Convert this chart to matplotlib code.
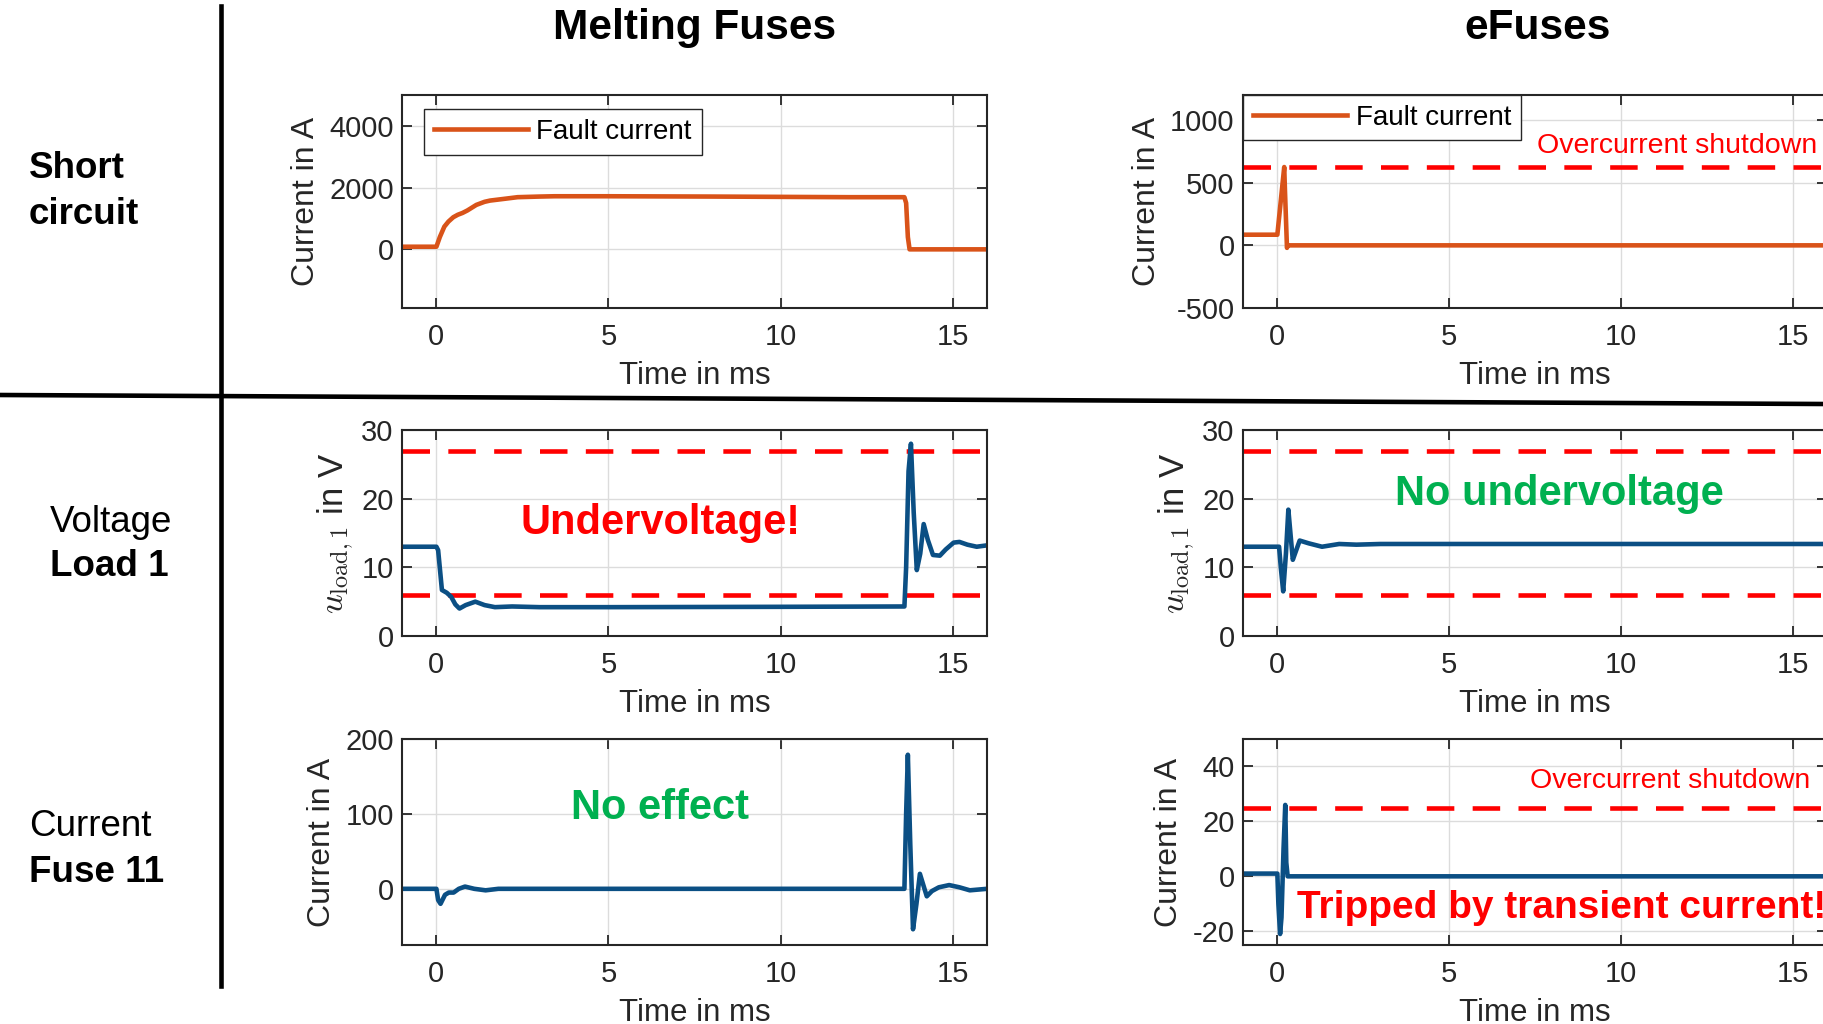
import matplotlib
matplotlib.use("Agg")
import matplotlib.pyplot as plt
from matplotlib.lines import Line2D

plt.rcParams['font.family'] = ['Liberation Sans', 'DejaVu Sans']
plt.rcParams['mathtext.fontset'] = 'cm'
plt.rcParams['axes.unicode_minus'] = False

# ---- data ----
fc_melt_t = [-1, 0, 0.1, 0.23, 0.35, 0.49, 0.62, 0.76, 0.9, 1.16, 1.4, 1.56, 2.0, 2.36,
             3.0, 3.43, 5, 8, 10, 12, 13.6, 13.65, 13.7, 13.75, 16]
fc_melt_i = [85, 85, 400, 735, 900, 1040, 1120, 1180, 1260, 1440, 1540, 1580, 1640, 1690,
             1710, 1720, 1720, 1710, 1700, 1690, 1690, 1500, 400, 0, 0]

fc_efuse_t = [-1, 0, 0.2, 0.22, 0.28, 0.3, 16]
fc_efuse_i = [85, 85, 625, 450, -20, 0, 0]

u_melt_t = [-1, 0, 0.05, 0.16, 0.3, 0.43, 0.55, 0.67, 0.85, 1.13, 1.4, 1.7, 2.2, 3, 5, 10,
            13.6, 13.65, 13.72, 13.79, 13.87, 13.96, 14.06, 14.16, 14.28, 14.43, 14.63,
            14.8, 15.03, 15.2, 15.43, 15.7, 16]
u_melt = [13.0, 13.0, 12.5, 6.7, 6.3, 5.7, 4.6, 4.0, 4.5, 5.0, 4.5, 4.2, 4.3, 4.2, 4.2, 4.25,
          4.3, 10, 24, 28.0, 18, 9.6, 12, 16.3, 14, 11.8, 11.7, 12.6, 13.6, 13.7, 13.3, 13.0, 13.2]

u_efuse_t = [-1, 0.05, 0.1, 0.17, 0.25, 0.32, 0.38, 0.45, 0.55, 0.65, 0.91, 1.3, 1.8, 2.3, 3, 16]
u_efuse = [13.0, 13.0, 10, 6.5, 12, 18.4, 15, 11.1, 12.5, 13.9, 13.5, 13.0, 13.4, 13.3, 13.4, 13.4]

i_melt_t = [-1, 0, 0.05, 0.12, 0.25, 0.36, 0.5, 0.65, 0.83, 1.1, 1.43, 1.8, 2.2, 13.6, 13.65,
            13.7, 13.77, 13.85, 13.95, 14.05, 14.15, 14.25, 14.4, 14.6, 14.9, 15.2, 15.5, 16]
i_melt = [0, 0, -15, -20, -8, -5, -5, 0, 3, 0, -2, 0, 0, 0, 100,
          179, 60, -54, -20, 20, 5, -10, -3, 2, 5, 2, -2, 0]

i_efuse_t = [-1, 0, 0.03, 0.08, 0.12, 0.18, 0.23, 0.26, 0.3, 16]
i_efuse = [1, 1, -10, -21, -15, 10, 26, 5, 0, 0]

u_limits = [27, 6]
oc_limit_fault = 625
oc_limit_fuse = 25

col_titles = ["Melting Fuses", "eFuses"]

ORANGE = '#D95319'
BLUE = '#0b4f84'
RED = '#FF0000'
GREEN = '#00B050'
DARK = '#262626'
LW = 3.3

W, H = 1823, 1024
fig = plt.figure(figsize=(W / 100, H / 100), dpi=100)


def add_ax(left, top, right, bottom):
    ax = fig.add_axes([left / W, 1 - bottom / H, (right - left) / W, (bottom - top) / H])
    ax.set_xlim(-1, 16)
    ax.set_xticks([0, 5, 10, 15])
    ax.grid(True, color='#dcdcdc', linewidth=1)
    ax.set_axisbelow(True)
    ax.tick_params(direction='in', top=True, right=True, length=7, width=1.3,
                   labelsize=21, colors=DARK, labelcolor=DARK)
    ax.tick_params(axis='x', pad=11)
    ax.tick_params(axis='y', pad=6)
    for s in ax.spines.values():
        s.set_color(DARK)
        s.set_linewidth(1.5)
    ax.set_xlabel("Time in ms", fontsize=22.5, color=DARK, labelpad=7)
    return ax


L0, L1 = 402, 987
R0, R1 = 1243, 1827
rows = [(95, 308), (430, 636), (739, 945)]

ax1 = add_ax(L0, rows[0][0], L1, rows[0][1])
ax2 = add_ax(R0, rows[0][0], R1, rows[0][1])
ax3 = add_ax(L0, rows[1][0], L1, rows[1][1])
ax4 = add_ax(R0, rows[1][0], R1, rows[1][1])
ax5 = add_ax(L0, rows[2][0], L1, rows[2][1])
ax6 = add_ax(R0, rows[2][0], R1, rows[2][1])

leg_kw = dict(fontsize=20, fancybox=False, framealpha=1, edgecolor=DARK,
              handlelength=3.4, handletextpad=0.3, borderpad=0.35, borderaxespad=0)
dash = (0, (6, 4))

# Row 1: fault current
ax1.plot(fc_melt_t, fc_melt_i, color=ORANGE, lw=LW, label='Fault current')
ax1.set_ylim(-1900, 5000)
ax1.set_yticks([0, 2000, 4000])
ax1.set_ylabel("Current in A", fontsize=23, color=DARK, labelpad=6)
lg = ax1.legend(loc='upper left', bbox_to_anchor=(0.0376, 0.934), **leg_kw)
lg.get_frame().set_linewidth(1)

ax2.plot(fc_efuse_t, fc_efuse_i, color=ORANGE, lw=LW, label='Fault current')
ax2.axhline(oc_limit_fault, color=RED, lw=LW, ls=dash)
ax2.set_ylim(-500, 1200)
ax2.set_yticks([-500, 0, 500, 1000])
ax2.set_ylabel("Current in A", fontsize=23, color=DARK, labelpad=6)
ax2.text(15.72, 790, "Overcurrent shutdown", color=RED, fontsize=20.5, ha='right', va='center')
lg = ax2.legend(loc='upper left', bbox_to_anchor=(0, 1), **leg_kw)
lg.get_frame().set_linewidth(1)

# Row 2: load voltage
for ax, t, u in [(ax3, u_melt_t, u_melt), (ax4, u_efuse_t, u_efuse)]:
    for lim in u_limits:
        ax.axhline(lim, color=RED, lw=LW, ls=dash)
    ax.plot(t, u, color=BLUE, lw=LW)
    ax.set_ylim(0, 30)
    ax.set_yticks([0, 10, 20, 30])
    ax.set_ylabel(r"$u_{\mathrm{load,1}}$ in V", fontsize=25, color=DARK, labelpad=4)
ax3.text(6.5, 16.4, "Undervoltage!", color=RED, fontsize=30, fontweight='bold',
         ha='center', va='center')
ax4.text(8.2, 20.7, "No undervoltage", color=GREEN, fontsize=30, fontweight='bold',
         ha='center', va='center')

# Row 3: fuse current
ax5.plot(i_melt_t, i_melt, color=BLUE, lw=LW)
ax5.set_ylim(-75, 200)
ax5.set_yticks([0, 100, 200])
ax5.set_ylabel("Current in A", fontsize=23, color=DARK, labelpad=6)
ax5.text(6.5, 108, "No effect", color=GREEN, fontsize=30, fontweight='bold',
         ha='center', va='center')

ax6.axhline(oc_limit_fuse, color=RED, lw=LW, ls=dash)
ax6.plot(i_efuse_t, i_efuse, color=BLUE, lw=LW)
ax6.set_ylim(-25, 50)
ax6.set_yticks([-20, 0, 20, 40])
ax6.set_ylabel("Current in A", fontsize=23, color=DARK, labelpad=6)
ax6.text(15.5, 34.6, "Overcurrent shutdown", color=RED, fontsize=20.5, ha='right', va='center')
ax6.text(0.57, -11.4, "Tripped by transient current!", color=RED, fontsize=28,
         fontweight='bold', ha='left', va='center')

# column titles and row labels
fig.text(695 / W, 1 - 28 / H, col_titles[0], fontsize=30.5, fontweight='bold', ha='center', va='center')
fig.text(1538 / W, 1 - 28 / H, col_titles[1], fontsize=30.5, fontweight='bold', ha='center', va='center')

fig.text(29 / W, 1 - 168 / H, "Short", fontsize=26.5, fontweight='bold', va='center')
fig.text(29 / W, 1 - 214 / H, "circuit", fontsize=26.5, fontweight='bold', va='center')
fig.text(50 / W, 1 - 523 / H, "Voltage", fontsize=26.5, va='center')
fig.text(50 / W, 1 - 567 / H, "Load 1", fontsize=26.5, fontweight='bold', va='center')
fig.text(29 / W, 1 - 826 / H, "Current", fontsize=26.5, va='center')
fig.text(29 / W, 1 - 872 / H, "Fuse 11", fontsize=26.5, fontweight='bold', va='center')

# separator lines
fig.add_artist(Line2D([221 / W, 221 / W], [1 - 6 / H, 1 - 986 / H], color='black', lw=3.3))
fig.add_artist(Line2D([0, 1], [1 - 395 / H, 1 - 404 / H], color='black', lw=3.3))

fig.savefig("out.png", dpi=100)
